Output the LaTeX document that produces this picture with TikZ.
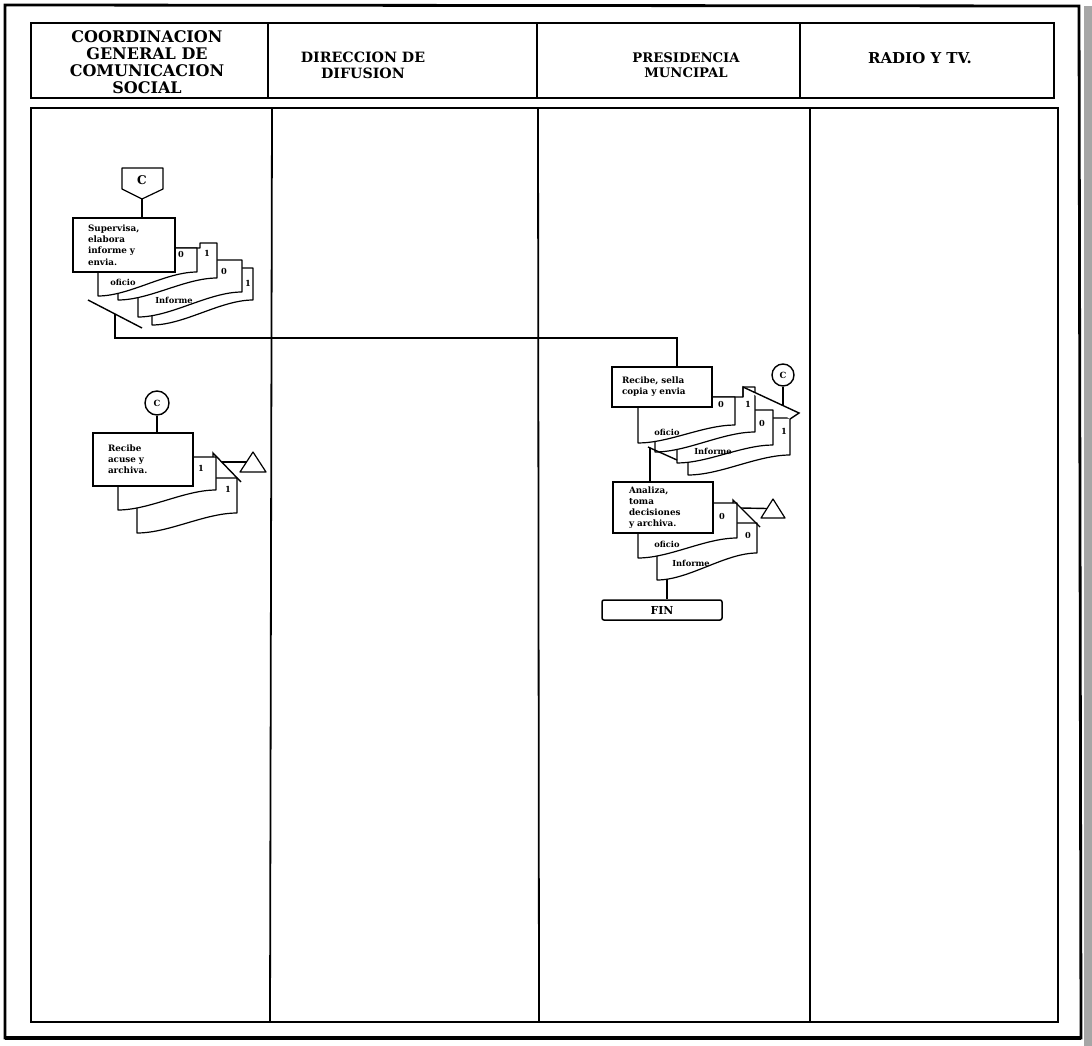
\documentclass[tikz,border=0pt]{standalone}
\usepackage{fontspec}
\setmainfont{DejaVu Serif}
\usetikzlibrary{calc}

% document sheet: left, top, right, bottom-left, bottom-right (wavy lower edge)
\newcommand\docpage[5]{%
  \pgfmathsetmacro\dpa{#3-0.32*(#3-#1)}%
  \pgfmathsetmacro\dpb{#1+0.32*(#3-#1)}%
  \filldraw[docline] (#1,#2) -- (#3,#2) -- (#3,#5)
    .. controls (\dpa,#5) and (\dpb,#4) .. (#1,#4) -- cycle;}
% sheet whose top steps up: left, lower top, step x, upper top, right, bottom-left, bottom-right
\newcommand\docstep[7]{%
  \pgfmathsetmacro\dpa{#5-0.32*(#5-#1)}%
  \pgfmathsetmacro\dpb{#1+0.32*(#5-#1)}%
  \filldraw[docline] (#1,#2) -- (#3,#2) -- (#3,#4) -- (#5,#4) -- (#5,#7)
    .. controls (\dpa,#7) and (\dpb,#6) .. (#1,#6) -- cycle;}

\tikzset{
  lane/.style={line width=1.8pt},
  frame/.style={line width=2.8pt},
  docline/.style={line width=1.2pt, fill=white, line join=round},
  wire/.style={line width=1.4pt},
  procbox/.style={draw, line width=1.5pt, fill=white, inner sep=0pt, align=left,
    font=\bfseries\fontsize{8.8}{11.2}\selectfont},
  head/.style={align=center, inner sep=0pt, font=\bfseries\fontsize{15}{17}\selectfont},
  lbl/.style={inner sep=0pt, font=\bfseries\fontsize{8.3}{9}\selectfont},
  conn/.style={draw, circle, line width=1.4pt, fill=white, inner sep=0pt,
    font=\bfseries\fontsize{8.5}{8.5}\selectfont},
}

\begin{document}
\begin{tikzpicture}[x=1pt,y=-1pt]
\useasboundingbox (0,0) rectangle (1092,1046);
\fill[white] (0,0) rectangle (1092,1046);
\fill[black!35] (1084,6) rectangle (1092,1046);

% outer frame
\draw[frame] (5,5) -- (1079,6) -- (1081,1038) -- (5,1038) -- cycle;
\draw[line width=4.5pt] (5,1038) -- (1081,1038);

% lane headers
\draw[lane] (31,23) rectangle (1054,98);
\foreach \hx in {268,537,800} \draw[lane] (\hx,23) -- (\hx,98);
\node[head, font=\bfseries\fontsize{16}{17}\selectfont] (h1) at (147,62)
  {COORDINACION\\GENERAL DE\\COMUNICACION\\SOCIAL};
\node[head, font=\bfseries\fontsize{14.2}{16}\selectfont] (h2) at (363,65) {DIRECCION DE\\DIFUSION};
\node[head, font=\bfseries\fontsize{13.2}{15.5}\selectfont] (h3) at (686,65) {PRESIDENCIA\\MUNCIPAL};
\node[head] (h4) at (920,58) {RADIO Y TV.};

% lane bodies
\draw[lane] (31,108) rectangle (1058,1022);
\draw[lane] (272,108) -- (270,1022);
\draw[lane] (538,108) -- (539,1022);
\draw[lane] (810,108) -- (810,1022);

% ---- Coordinacion: supervisa y envia
\filldraw[docline] (122,168) -- (163,168) -- (163,189) -- (142,199) -- (122,189) -- cycle;
\node[font=\bfseries\fontsize{12}{12}\selectfont] (offc) at (142,180) {C};
\coordinate (offtip) at (142,199);

\docpage{152}{268}{253}{325}{300}
\docpage{138}{260}{242}{317}{292}
\docstep{118}{248}{200}{243}{217}{300}{278}
\docpage{98}{248}{197}{296}{272}
\node[lbl] (s0a) at (181,254) {0};
\node[lbl] (s1a) at (207,253) {1};
\node[lbl] (s0b) at (224,271) {0};
\node[lbl] (s1b) at (248,283) {1};
\node[lbl] (sof) at (123,282) {oficio};
\node[lbl] (sin) at (174,300) {Informe};
\node[procbox, minimum width=102pt, minimum height=54pt, text width=72pt] (sup) at (124,245)
  {Supervisa,\\elabora\\informe y\\envia.};
\draw[wire] (offtip) -- (offtip |- sup.north);

\coordinate (cutA1) at (88,300);
\coordinate (cutA2) at (142,328);
\draw[wire] (cutA1) -- (cutA2);
\coordinate (outA) at ($(cutA1)!0.5!(cutA2)$);

% ---- Presidencia: recibe, sella copia y envia
\docpage{688}{418}{790}{475}{455}
\docpage{677}{410}{773}{463}{445}
\docstep{655}{397}{743}{387}{755}{452}{432}
\docpage{638}{397}{735}{443}{425}
\node[lbl] (r0a) at (721,404) {0};
\node[lbl] (r1a) at (748,404) {1};
\node[lbl] (r0b) at (762,423) {0};
\node[lbl] (r1b) at (784,431) {1};
\node[lbl] (rof) at (667,432) {oficio};
\node[lbl] (rin) at (713,451) {Informe};
\node[procbox, minimum width=100pt, minimum height=40pt, text width=80pt] (rec) at (662,387)
  {Recibe, sella\\copia y envia};
\fill[white] (743,387) -- (799,413) -- (790,419) -- cycle;
\draw[wire] (743,397) -- (743,387) -- (799,413) -- (790,419);
\node[conn, minimum size=22pt] (cr) at (783,375) {C};
\coordinate (pnR) at (783,406);
\draw[wire] (cr) -- (pnR);

\coordinate (inR) at ($(rec.north)+(15,0)$);
\draw[wire] (outA) |- (inR |- 0,338) -- (inR);

\coordinate (cutB1) at (648,447);
\coordinate (cutB2) at (677,460);
\draw[wire] (cutB1) -- (cutB2);
\coordinate (outB) at (650,448);

% ---- Presidencia: analiza, toma decisiones y archiva
\docpage{657}{523}{757}{580}{553}
\docpage{638}{503}{737}{558}{538}
\node[lbl] (a0a) at (722,516) {0};
\node[lbl] (a0b) at (748,535) {0};
\node[lbl] (aof) at (667,544) {oficio};
\node[lbl] (ain) at (691,563) {Informe};
\node[procbox, minimum width=100pt, minimum height=51pt, text width=68pt] (ana) at (663,507.5)
  {Analiza,\\toma\\decisiones\\y archiva.};
\draw[wire] (outB) -- (outB |- ana.north);
\draw[wire] (733,503) -- (733,500) -- (760,527);
\filldraw[docline] (773,499) -- (785,518) -- (761,518) -- cycle;
\coordinate (arN) at (767,508.5);
\coordinate (pnN) at (741,508);
\draw[wire] (pnN) -- (arN);

\node[procbox, rounded corners=2pt, minimum width=120pt, minimum height=20pt, align=center,
  font=\bfseries\fontsize{11}{11}\selectfont] (fin) at (662,610) {FIN};
\coordinate (docN) at (667,579);
\draw[wire] (docN) -- (docN |- fin.north);

% ---- Coordinacion: recibe acuse y archiva
\node[conn, minimum size=24pt] (cl) at (157,403) {C};
\docpage{137}{478}{237}{533}{513}
\docpage{118}{457}{216}{510}{490}
\node[lbl] (k1a) at (201,468) {1};
\node[lbl] (k1b) at (228,489) {1};
\node[procbox, minimum width=100pt, minimum height=53pt, text width=70pt] (acu) at (143,459.5)
  {Recibe\\acuse y\\archiva.};
\draw[wire] (cl) -- (cl |- acu.north);
\draw[wire] (213,457) -- (213,453) -- (241,482);
\filldraw[docline] (253,452) -- (266,472) -- (240,472) -- cycle;
\coordinate (arK) at (246.5,462);
\coordinate (pnK) at (222,462);
\draw[wire] (pnK) -- (arK);
\end{tikzpicture}
\end{document}
